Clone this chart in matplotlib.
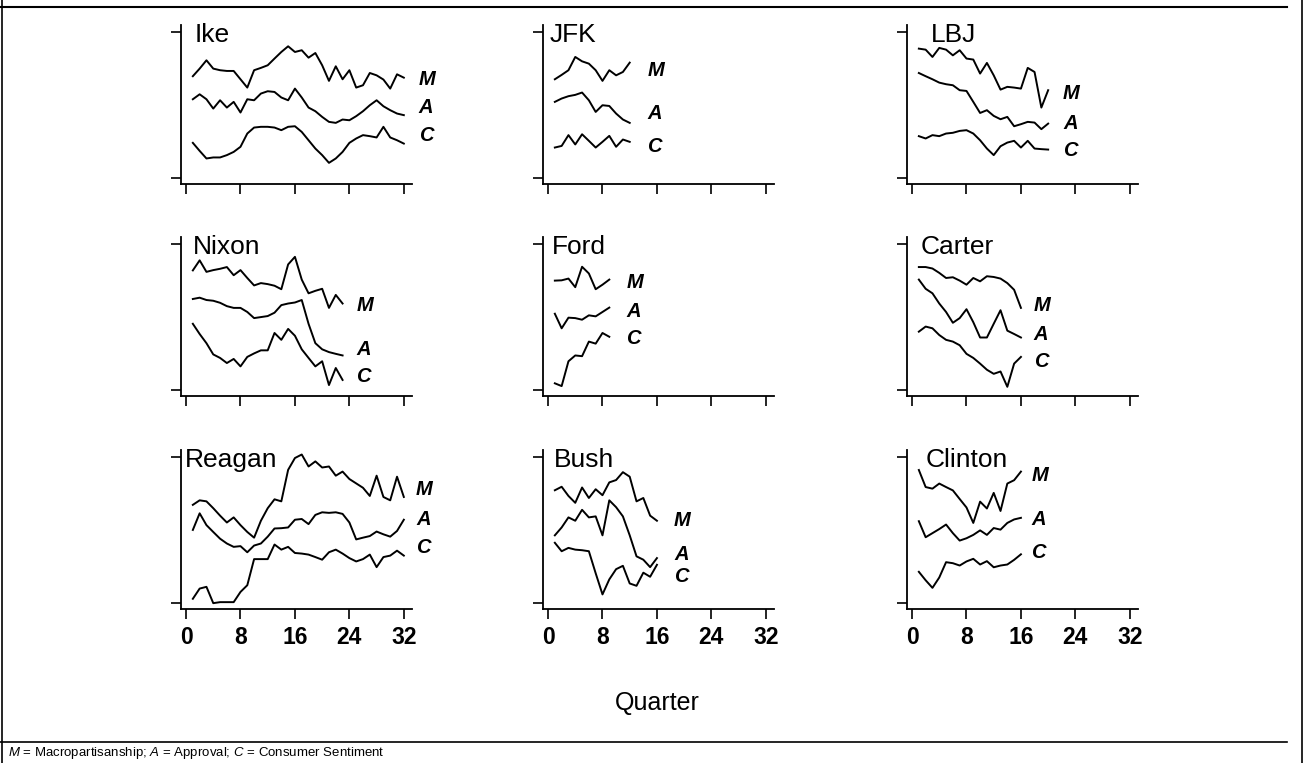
import matplotlib
matplotlib.use("Agg")
import matplotlib.pyplot as plt
from matplotlib.lines import Line2D

# index values (0-100 scale within each panel), one point per quarter from quarter 1
IKE_M = [69.9, 75.1, 80.8, 75.1, 74.0, 73.5, 73.5, 67.8, 62.1, 74.0, 75.6, 77.4, 82.0, 86.5, 90.4, 86.5,
         87.7, 82.6, 85.8, 77.4, 66.7, 76.7, 67.8, 74.0, 62.1, 63.7, 72.1, 70.5, 67.6, 61.4, 71.2, 68.9]
IKE_A = [54.1, 57.5, 54.1, 47.7, 53.4, 48.4, 52.3, 45.0, 54.1, 53.4, 58.0, 59.6, 59.1, 55.3, 53.4, 61.4,
         55.3, 48.4, 45.9, 42.0, 38.6, 37.9, 40.2, 39.7, 42.5, 45.9, 50.0, 53.4, 49.3, 46.6, 44.3, 43.2]
IKE_C = [24.2, 18.7, 13.5, 14.2, 14.2, 15.8, 18.0, 21.5, 30.6, 34.7, 35.2, 35.2, 34.7, 32.9, 35.2, 35.6,
         31.7, 26.0, 20.3, 15.8, 10.5, 13.5, 18.0, 24.2, 27.2, 29.5, 28.8, 27.9, 35.2, 27.9, 26.0, 23.7]

JFK_M = [67.8, 70.8, 74.0, 83.1, 80.1, 78.5, 74.0, 66.7, 74.0, 70.5, 72.8, 79.2]
JFK_A = [52.3, 54.6, 56.2, 57.1, 58.7, 53.4, 45.4, 50.0, 49.5, 44.3, 40.2, 37.9]
JFK_C = [21.0, 22.1, 29.5, 23.1, 30.1, 25.6, 21.0, 24.9, 29.0, 21.5, 26.5, 24.9]

LBJ_M = [88.8, 88.1, 83.1, 89.3, 88.1, 84.2, 87.7, 82.0, 81.3, 71.7, 79.0, 70.5, 60.7, 62.6, 62.1, 61.4,
         75.6, 72.8, 48.4, 60.3]
LBJ_A = [72.1, 69.9, 67.8, 65.5, 64.4, 63.7, 60.3, 59.8, 52.3, 44.7, 46.6, 42.7, 40.4, 42.0, 35.6, 37.0,
         38.6, 38.1, 33.6, 37.4]
LBJ_C = [28.8, 27.2, 29.5, 28.8, 30.6, 31.1, 32.4, 32.9, 30.6, 26.0, 20.3, 15.8, 21.9, 24.4, 25.6, 21.0,
         25.6, 20.3, 19.9, 19.6]

NIXON_M = [82.1, 89.0, 81.1, 82.3, 83.2, 84.4, 78.8, 82.3, 76.9, 71.8, 73.4, 72.7, 71.6, 69.2, 86.2, 91.4,
           75.8, 66.4, 68.1, 69.5, 56.4, 65.3, 59.4]
NIXON_A = [62.5, 63.4, 61.8, 61.3, 59.9, 57.6, 56.4, 56.4, 53.6, 49.4, 50.1, 50.8, 53.1, 58.3, 59.4, 60.1,
           61.8, 45.5, 32.2, 28.0, 26.1, 24.9, 23.8]
NIXON_C = [45.5, 38.5, 32.2, 24.5, 22.1, 18.6, 21.4, 16.3, 22.8, 25.2, 27.3, 27.3, 39.2, 34.5, 42.0, 37.3,
           28.0, 22.1, 16.3, 19.8, 3.5, 15.2, 7.0]

FORD_M = [75.1, 75.3, 76.5, 70.6, 84.6, 80.0, 69.2, 72.3, 75.8]
FORD_A = [52.4, 42.4, 49.7, 49.4, 48.3, 51.3, 50.6, 53.6, 56.6]
FORD_C = [4.7, 2.8, 19.8, 23.8, 23.3, 33.3, 31.9, 39.2, 36.6]

CARTER_M = [84.4, 84.4, 83.4, 80.4, 76.9, 77.4, 75.1, 72.3, 76.9, 74.6, 78.1, 77.6, 76.5, 73.4, 68.8, 56.4]
CARTER_A = [75.8, 69.5, 66.4, 59.4, 53.6, 46.2, 49.4, 55.5, 46.6, 36.1, 36.1, 45.5, 54.8, 40.8, 38.5, 36.1]
CARTER_C = [40.1, 43.6, 42.4, 37.8, 34.5, 33.3, 30.8, 24.9, 22.1, 18.2, 14.0, 11.2, 12.8, 2.3, 18.2, 22.8]

REAGAN_M = [67.4, 70.5, 69.8, 65.1, 60.0, 55.3, 58.8, 53.5, 48.8, 44.9, 56.5, 65.1, 71.2, 69.8, 91.4, 99.5,
            101.9, 93.7, 97.2, 93.0, 93.7, 87.4, 90.2, 85.1, 82.1, 79.1, 73.5, 87.4, 72.8, 70.5, 86.7, 72.8]
REAGAN_A = [50.2, 61.6, 53.5, 48.8, 44.2, 40.9, 38.6, 39.1, 34.9, 39.5, 40.9, 45.6, 51.2, 51.4, 51.9, 57.2,
            57.7, 54.2, 60.5, 62.3, 61.9, 62.3, 61.2, 55.3, 43.7, 44.9, 46.0, 49.1, 47.2, 45.6, 49.5, 57.2]
REAGAN_C = [3.0, 10.0, 11.2, 0.0, 0.7, 0.7, 0.7, 7.7, 12.3, 30.2, 30.2, 30.2, 40.2, 36.7, 38.6, 34.4,
            34.0, 33.3, 31.6, 29.8, 34.9, 36.7, 34.0, 30.9, 28.6, 30.2, 33.3, 24.7, 31.6, 32.6, 36.0, 32.6]

BUSH_M = [77.4, 79.8, 73.5, 68.8, 79.3, 72.1, 78.1, 74.0, 82.8, 84.4, 89.8, 86.7, 69.8, 72.1, 60.0, 56.5]
BUSH_A = [46.5, 51.9, 58.8, 56.5, 64.0, 58.8, 59.5, 46.5, 70.5, 65.8, 59.5, 46.5, 32.1, 29.8, 24.7, 30.9]
BUSH_C = [41.4, 35.6, 37.9, 36.7, 36.3, 35.6, 20.5, 6.0, 16.3, 23.3, 25.6, 13.5, 11.9, 20.9, 18.1, 26.3]

CLINTON_M = [91.3, 79.6, 78.5, 82.0, 79.6, 77.3, 71.4, 65.6, 55.0, 69.6, 64.9, 75.6, 63.2, 82.0, 84.3, 90.2]
CLINTON_A = [56.2, 45.2, 48.0, 50.8, 53.9, 48.0, 42.9, 44.5, 46.8, 49.9, 46.8, 51.5, 50.4, 55.0, 57.4, 58.5]
CLINTON_C = [21.5, 15.7, 10.5, 17.6, 28.1, 27.4, 25.8, 28.6, 30.4, 26.5, 28.8, 24.6, 25.8, 26.5, 29.7, 33.5]

NAMES = ["Ike", "JFK", "LBJ", "Nixon", "Ford", "Carter", "Reagan", "Bush", "Clinton"]
SERIES = [
    (IKE_M, IKE_A, IKE_C), (JFK_M, JFK_A, JFK_C), (LBJ_M, LBJ_A, LBJ_C),
    (NIXON_M, NIXON_A, NIXON_C), (FORD_M, FORD_A, FORD_C), (CARTER_M, CARTER_A, CARTER_C),
    (REAGAN_M, REAGAN_A, REAGAN_C), (BUSH_M, BUSH_A, BUSH_C), (CLINTON_M, CLINTON_A, CLINTON_C),
]
XTICKS = [0, 8, 16, 24, 32]
SERIES_LETTERS = ["M", "A", "C"]

# layout: title x, label x, label y for M, A, C
LAYOUT = {
    "Ike":     (1.3, 34.2, (67.8, 48.4, 29.5)),
    "JFK":     (0.3, 14.6, (74.0, 44.3, 21.5)),
    "LBJ":     (2.8, 22.2, (58.0, 37.4, 19.2)),
    "Nixon":   (1.0, 25.0, (57.8, 28.0, 9.3)),
    "Ford":    (0.6, 11.5, (74.1, 54.1, 35.4)),
    "Carter":  (1.3, 17.9, (57.8, 38.5, 19.8)),
    "Reagan":  (-0.1, 33.8, (78.1, 57.2, 37.9)),
    "Bush":    (0.9, 18.5, (56.5, 33.3, 18.1)),
    "Clinton": (2.0, 17.5, (87.8, 57.4, 34.4)),
}

plt.rcParams['font.family'] = ['Liberation Sans', 'DejaVu Sans']
plt.rcParams['mathtext.fontset'] = 'custom'
plt.rcParams['mathtext.rm'] = 'Liberation Sans'
plt.rcParams['mathtext.it'] = 'Liberation Sans:italic'

W, H = 1303.0, 763.0
fig = plt.figure(figsize=(W / 100, H / 100), dpi=100)

col_left = [181, 543, 907]
row_top = [25, 237, 450]
ax_w, ax_h = 231, 159

for i, name in enumerate(NAMES):
    r, c = divmod(i, 3)
    ax = fig.add_axes([col_left[c] / W, 1 - (row_top[r] + ax_h) / H, ax_w / W, ax_h / H])
    for vals in SERIES[i]:
        q = list(range(1, len(vals) + 1))
        ax.plot(q, vals, color="black", lw=1.4)
    ax.set_xlim(-0.74, 33.2)
    ax.set_ylim(-4, 105)
    ax.set_yticks([0, 100])
    ax.set_yticklabels([])
    ax.set_xticks(XTICKS)
    if r == 2:
        ax.set_xticklabels([str(t) for t in XTICKS], fontsize=16.5, fontweight="bold")
    else:
        ax.set_xticklabels([])
    ax.tick_params(direction="out", length=7.5, width=1.2, pad=5)
    for s in ["top", "right"]:
        ax.spines[s].set_visible(False)
    for s in ["left", "bottom"]:
        ax.spines[s].set_linewidth(1.3)

    tx, lx, lys = LAYOUT[name]
    ax.text(tx, 98, name, fontsize=19, ha="left", va="center")
    for letter, ly in zip(SERIES_LETTERS, lys):
        ax.text(lx, ly, letter, fontsize=14.5, fontweight="bold", fontstyle="italic",
                ha="left", va="center", clip_on=False)

fig.text(657 / W, 1 - 703 / H, "Quarter", fontsize=18, ha="center", va="center")
fig.text(8 / W, 1 - 753 / H,
         r"$M$ = Macropartisanship; $A$ = Approval; $C$ = Consumer Sentiment",
         fontsize=9.5, ha="left", va="center")

# frame
fig.add_artist(Line2D([0, 1287 / W], [1 - 7 / H, 1 - 7 / H], color="black", lw=1.5, transform=fig.transFigure))
fig.add_artist(Line2D([0, 1287 / W], [1 - 742 / H, 1 - 742 / H], color="black", lw=1.2, transform=fig.transFigure))
fig.add_artist(Line2D([2 / W, 2 / W], [0, 1], color="black", lw=1.2, transform=fig.transFigure))
fig.add_artist(Line2D([1301.5 / W, 1301.5 / W], [0, 1], color="black", lw=1.2, transform=fig.transFigure))

fig.savefig("out.png", dpi=100)
